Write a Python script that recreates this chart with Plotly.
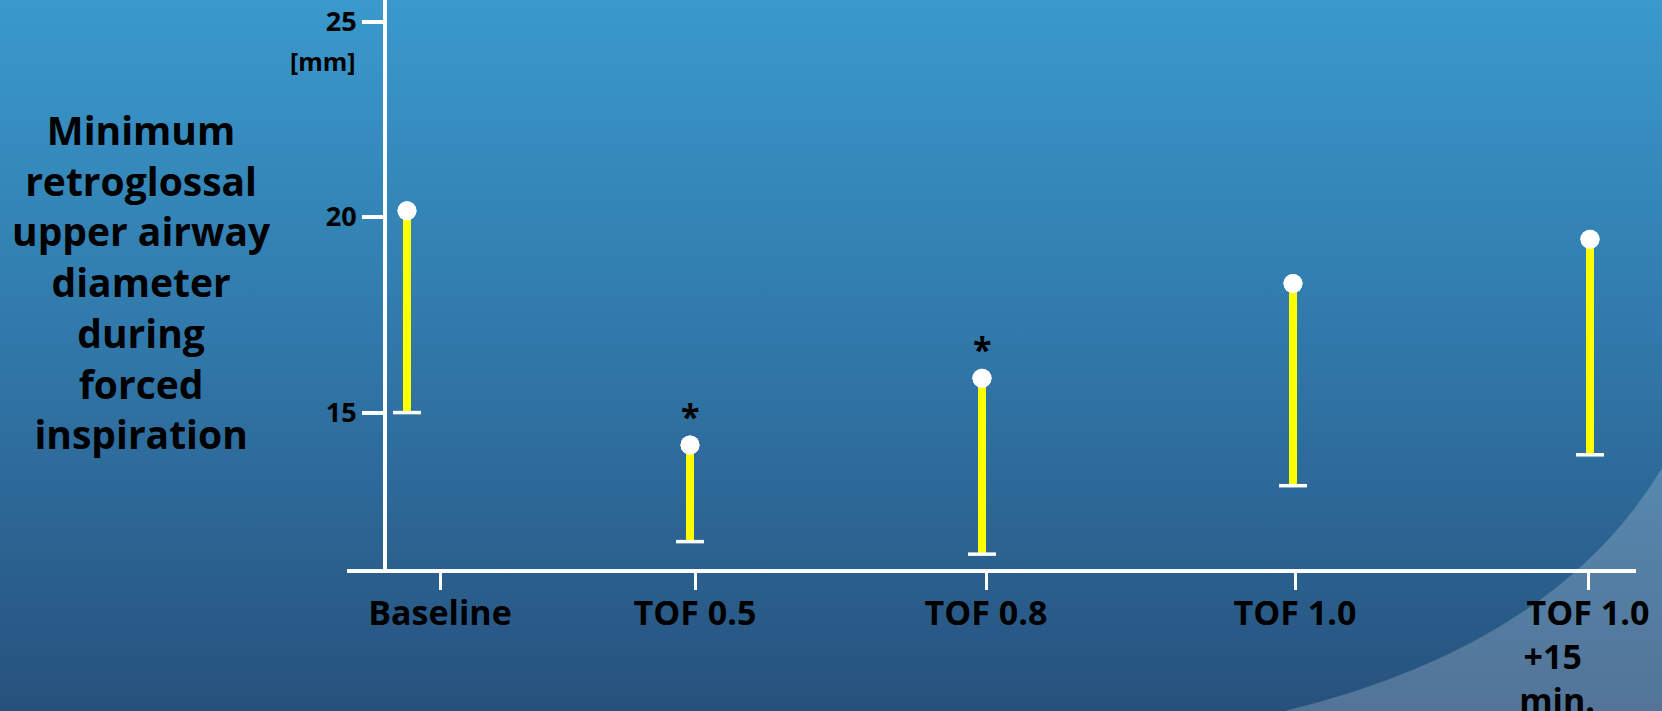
import base64
import plotly.graph_objects as go

# ---- data ----
categories = ["Baseline", "TOF 0.5", "TOF 0.8", "TOF 1.0", "TOF 1.0 +15 min."]
mean_mm = [20.16, 14.17, 15.88, 18.30, 19.43]
lower_mm = [15.0, 11.70, 11.38, 13.13, 13.92]
significant = [False, True, True, False, False]
y_tick_vals = [15, 20, 25]
y_title_lines = ["Minimum", "retroglossal", "upper airway", "diameter", "during", "forced", "inspiration"]
unit_label = "[mm]"

# ---- layout geometry (figure pixels) ----
W, H = 1662, 711
L, R, T, B = 347, 26, 0, 142
PW, PH = W - L - R, H - T - B
point_x = [407, 690, 982, 1293, 1590]   # x positions of the marks (axis units)
tick_x = [440, 695, 986, 1295, 1588]    # x positions of the category ticks
x_range = [L, W - R]
y_range = [11.0, 25.55]

def px2paper_x(px):
    return (px - L) / PW

def py2paper_y(py):
    return (H - B - py) / PH

NB = "\u00a0"
tick_text = ["Baseline", "TOF 0.5", "TOF 0.8", "TOF 1.0",
             "TOF 1.0<br>+15" + NB * 8 + "<br>min." + NB * 7]

FONT = "Open Sans"

# background: vertical gradient plus the light arc in the lower right
svg = f'''<svg xmlns="http://www.w3.org/2000/svg" width="{W}" height="{H}" viewBox="0 0 {W} {H}" preserveAspectRatio="none">
<defs><linearGradient id="g" x1="0" y1="0" x2="0" y2="1">
<stop offset="0" stop-color="#3A99CD"/><stop offset="0.5" stop-color="#3077A8"/><stop offset="1" stop-color="#27517D"/>
</linearGradient></defs>
<rect x="0" y="0" width="{W}" height="{H}" fill="url(#g)"/>
<path d="M {W} 468 Q 1556 645 1285 {H} L {W} {H} Z" fill="rgb(220,232,240)" fill-opacity="0.24"/>
</svg>'''
bg_src = "data:image/svg+xml;base64," + base64.b64encode(svg.encode()).decode()

fig = go.Figure()

# yellow stems (downward error bars)
fig.add_trace(go.Scatter(
    x=point_x, y=mean_mm, mode="markers",
    marker=dict(size=19, color="white", line=dict(width=0)),
    error_y=dict(type="data", symmetric=False,
                 array=[0] * len(mean_mm),
                 arrayminus=[m - l for m, l in zip(mean_mm, lower_mm)],
                 color="#FFFF00", thickness=8, width=0),
    cliponaxis=False, showlegend=False, hoverinfo="skip"))

# white caps at the lower end
fig.add_trace(go.Scatter(
    x=point_x, y=lower_mm, mode="markers",
    marker=dict(symbol="line-ew", size=20, line=dict(width=3.5, color="white")),
    cliponaxis=False, showlegend=False, hoverinfo="skip"))

# re-draw the mean markers on top of the caps/stems
fig.add_trace(go.Scatter(
    x=point_x, y=mean_mm, mode="markers",
    marker=dict(size=19, color="white", line=dict(width=0)),
    cliponaxis=False, showlegend=False, hoverinfo="skip"))

annotations = []
for xi, m, s in zip(point_x, mean_mm, significant):
    if s:
        annotations.append(dict(x=xi, y=m, xref="x", yref="y", text="<b>*</b>",
                                showarrow=False, yanchor="middle", yshift=29,
                                font=dict(family=FONT, size=34, color="black")))

annotations.append(dict(x=px2paper_x(141), y=py2paper_y(281), xref="paper", yref="paper",
                        text="<br>".join(y_title_lines), showarrow=False,
                        xanchor="center", yanchor="middle", align="center",
                        font=dict(family=FONT, size=39, color="black", weight=700)))
annotations.append(dict(x=px2paper_x(323), y=py2paper_y(61), xref="paper", yref="paper",
                        text=unit_label, showarrow=False, xanchor="center", yanchor="middle",
                        font=dict(family=FONT, size=25, color="black", weight=700)))

fig.update_layout(
    width=W, height=H, autosize=False,
    margin=dict(l=L, r=R, t=T, b=B, pad=0),
    paper_bgcolor="#2F77A8", plot_bgcolor="rgba(0,0,0,0)",
    showlegend=False,
    images=[dict(source=bg_src, xref="paper", yref="paper",
                 x=px2paper_x(0), y=py2paper_y(0), sizex=W / PW, sizey=H / PH,
                 xanchor="left", yanchor="top", sizing="stretch", layer="below")],
    annotations=annotations,
    xaxis=dict(range=x_range, tickmode="array", tickvals=tick_x, ticktext=tick_text,
               ticks="outside", ticklen=17, tickwidth=3, tickcolor="white",
               ticklabelstandoff=-6,
               showline=True, linecolor="white", linewidth=4,
               showgrid=False, zeroline=False, automargin=False, fixedrange=True,
               tickfont=dict(family=FONT, size=34, color="black", weight=700)),
    yaxis=dict(range=y_range, anchor="free", position=px2paper_x(385),
               tickmode="array", tickvals=y_tick_vals, ticktext=[str(v) for v in y_tick_vals],
               ticks="outside", ticklen=21, tickwidth=4, tickcolor="white",
               showline=True, linecolor="white", linewidth=4,
               showgrid=False, zeroline=False, automargin=False, fixedrange=True,
               tickfont=dict(family=FONT, size=27, color="black", weight=700)),
)

fig.write_html("out.html", config={"displayModeBar": False},
               post_script="document.body.style.margin='0';document.body.style.overflow='hidden';")
